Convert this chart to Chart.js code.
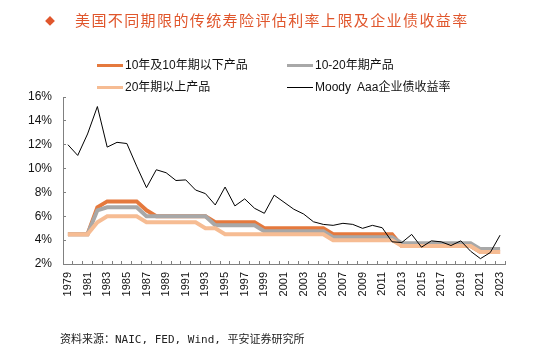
<!DOCTYPE html>
<html><head><meta charset="utf-8">
<script src="https://cdn.jsdelivr.net/npm/chart.js@4.4.1/dist/chart.umd.min.js"></script>
<style>
html,body{margin:0;padding:0;background:#fff}
body{width:533px;height:353px;overflow:hidden;position:relative;font-family:"Liberation Sans",Arial,"Noto Sans CJK SC",sans-serif}
#c{position:absolute;left:0;top:0}
.title{position:absolute;left:45px;top:10px;color:#E0562C;font-family:"Noto Sans CJK SC",sans-serif;font-size:15px;line-height:20px;letter-spacing:1.4px;white-space:nowrap}
.title .dia{font-size:10px;display:inline-block;width:30px;vertical-align:1px}
.leg{position:absolute;font-size:12px;line-height:14px;color:#111;white-space:nowrap;display:flex;align-items:center}
.leg i{display:inline-block;width:26px;margin-right:2px}
.src{position:absolute;left:60px;top:330px;font-family:"DejaVu Sans Mono","Noto Sans CJK SC",monospace;font-size:11px;color:#222;white-space:pre}
</style></head>
<body>
<canvas id="c" width="533" height="353"></canvas>
<div class="title"><span class="dia">◆</span>美国不同期限的传统寿险评估利率上限及企业债收益率</div>
<div id="legend"></div>
<div class="src">资料来源：NAIC, FED, Wind, 平安证券研究所</div>
<script>
const years = ['1979','1980','1981','1982','1983','1984','1985','1986','1987','1988','1989','1990','1991','1992','1993','1994','1995','1996','1997','1998','1999','2000','2001','2002','2003','2004','2005','2006','2007','2008','2009','2010','2011','2012','2013','2014','2015','2016','2017','2018','2019','2020','2021','2022','2023'];
const seriesNames = ['10年及10年期以下产品','10-20年期产品','20年期以上产品','Moody  Aaa企业债收益率'];
const upTo10 = [4.5,4.5,4.5,6.75,7.25,7.25,7.25,7.25,6.5,6,6,6,6,6,6,5.5,5.5,5.5,5.5,5.5,5,5,5,5,5,5,5,4.5,4.5,4.5,4.5,4.5,4.5,4.5,3.5,3.5,3.5,3.5,3.5,3.5,3.5,3.5,3,3,3];
const from10to20 = [4.5,4.5,4.5,6.5,6.75,6.75,6.75,6.75,6,6,6,6,6,6,6,5.25,5.25,5.25,5.25,5.25,4.75,4.75,4.75,4.75,4.75,4.75,4.75,4.25,4.25,4.25,4.25,4.25,4.25,4.25,3.75,3.75,3.75,3.75,3.75,3.75,3.75,3.75,3.25,3.25,3.25];
const over20 = [4.5,4.5,4.5,5.5,6,6,6,6,5.5,5.5,5.5,5.5,5.5,5.5,5,5,4.5,4.5,4.5,4.5,4.5,4.5,4.5,4.5,4.5,4.5,4.5,4,4,4,4,4,4,4,3.5,3.5,3.5,3.5,3.5,3.5,3.5,3.5,3,3,3];
const moodyAaa = [12.0,11.1,12.9,15.2,11.8,12.2,12.1,10.2,8.4,9.9,9.65,9.0,9.05,8.2,7.9,6.95,8.45,6.87,7.46,6.67,6.25,7.77,7.18,6.59,6.19,5.54,5.32,5.24,5.41,5.32,4.99,5.24,5.04,3.86,3.8,4.48,3.41,3.94,3.86,3.55,3.94,3.07,2.45,2.96,4.42];
const yTicks = [2,4,6,8,10,12,14,16];

const colors = ['#E5793D','#A8A8A8','#F6BC93','#000000'];
const widths = [4,4,4,1];
const orders = [3,2,1,0];
const values = [upTo10, from10to20, over20, moodyAaa];

const datasets = values.map((v,i)=>({
  label: seriesNames[i], data: v, borderColor: colors[i], backgroundColor: colors[i],
  borderWidth: widths[i], pointRadius: 0, tension: 0, fill: false, order: orders[i],
  borderJoinStyle: 'miter'
}));

// HTML legend built from the series
const legPos = [[97,58],[287,58],[97,80],[287,80]];
const legEl = document.getElementById('legend');
seriesNames.forEach((n,i)=>{
  const d = document.createElement('div');
  d.className = 'leg';
  d.style.left = legPos[i][0]+'px';
  d.style.top = legPos[i][1]+'px';
  d.innerHTML = '<i style="height:'+(i===3?1:3)+'px;background:'+colors[i]+'"></i><span style="white-space:pre">'+n+'</span>';
  legEl.appendChild(d);
});

new Chart(document.getElementById('c'), {
  type: 'line',
  data: { labels: years, datasets },
  options: {
    responsive: false, animation: false, devicePixelRatio: 1,
    layout: { padding: { left: 0, right: 28, top: 97, bottom: 49 } },
    plugins: { legend: { display: false }, tooltip: { enabled: false }, title: { display: false } },
    scales: {
      x: {
        type: 'category', offset: true,
        grid: { offset: true, drawOnChartArea: false, drawTicks: true, tickLength: -3, color: '#808080' },
        border: { display: true, color: '#808080', width: 1 },
        ticks: { autoSkip: false, minRotation: 90, maxRotation: 90, padding: 11, color: '#111',
          font: { family: '"Liberation Sans", Arial, sans-serif', size: 11 },
          callback: (v, i) => (i % 2 === 0 ? years[i] : '') },
        afterFit: s => { s.height = 40; }
      },
      y: {
        min: 2, max: 16,
        afterBuildTicks: s => { s.ticks = yTicks.map(v => ({ value: v })); },
        grid: { drawOnChartArea: false, drawTicks: true, tickLength: -3, color: '#808080' },
        border: { display: true, color: '#808080', width: 1 },
        ticks: { padding: 14, color: '#111', font: { family: '"Liberation Sans", Arial, sans-serif', size: 12 },
          callback: v => v + '%' },
        afterFit: s => { s.width = 63; }
      }
    }
  }
});
</script>
</body></html>
